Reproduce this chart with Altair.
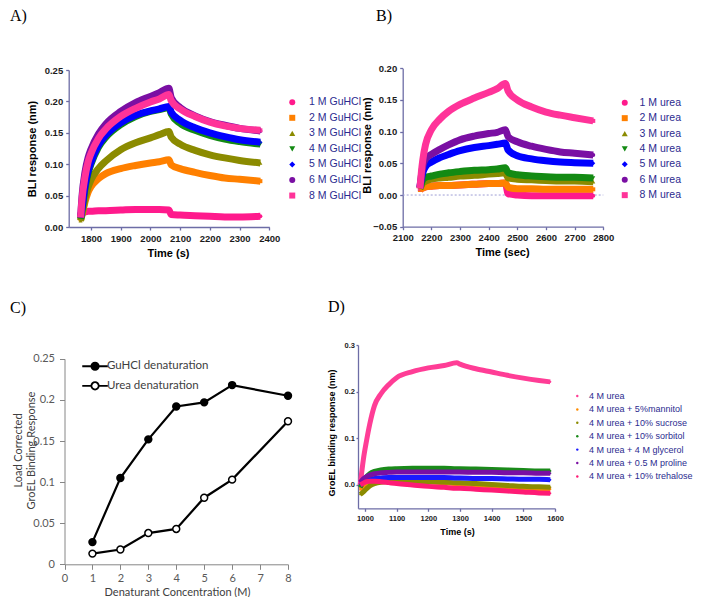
import altair as alt
import pandas as pd

W, H = 688, 589
SANS = "Liberation Sans"
CAL = "Lato"
SLATE = "#6d6da6"
NAVY = "#2b2b8f"

# ---------------- Panel A : GuHCl sensorgrams ----------------
A_names = ["1 M GuHCl", "2 M GuHCl", "3 M GuHCl", "4 M GuHCl", "5 M GuHCl", "6 M GuHCl", "8 M GuHCl"]
A_colors = ["#ff1a8c", "#ff8000", "#8b8b00", "#138a13", "#0000ff", "#7a0fa3", "#ff3399"]
A_shapes = ["circle", "square", "triangle-up", "triangle-down", "diamond", "circle", "square"]
A_time = [1765, 1770, 1780, 1790, 1800, 1825, 1850, 1900, 1950, 2000, 2030, 2062, 2070, 2100, 2150, 2200, 2250, 2300, 2370]
A_1M = [0.018, 0.025, 0.024, 0.025, 0.025, 0.026, 0.026, 0.027, 0.028, 0.028, 0.028, 0.027, 0.020, 0.019, 0.018, 0.017, 0.016, 0.016, 0.017]
A_2M = [0.012, 0.020, 0.040, 0.055, 0.064, 0.077, 0.085, 0.093, 0.098, 0.102, 0.104, 0.107, 0.099, 0.093, 0.087, 0.082, 0.078, 0.076, 0.073]
A_3M = [0.010, 0.020, 0.045, 0.063, 0.075, 0.093, 0.105, 0.123, 0.134, 0.142, 0.147, 0.152, 0.143, 0.132, 0.122, 0.115, 0.110, 0.106, 0.102]
A_4M = [0.013, 0.028, 0.062, 0.085, 0.100, 0.127, 0.143, 0.163, 0.176, 0.184, 0.187, 0.190, 0.180, 0.165, 0.154, 0.146, 0.140, 0.136, 0.132]
A_5M = [0.015, 0.030, 0.065, 0.088, 0.103, 0.130, 0.146, 0.166, 0.178, 0.185, 0.188, 0.192, 0.183, 0.170, 0.158, 0.150, 0.144, 0.139, 0.135]
A_6M = [0.015, 0.050, 0.088, 0.110, 0.124, 0.148, 0.164, 0.184, 0.198, 0.208, 0.214, 0.221, 0.206, 0.190, 0.177, 0.168, 0.162, 0.157, 0.153]
A_8M = [0.015, 0.045, 0.080, 0.103, 0.117, 0.141, 0.156, 0.176, 0.189, 0.199, 0.204, 0.211, 0.201, 0.188, 0.176, 0.167, 0.161, 0.157, 0.154]
A_xticks = [1800, 1900, 2000, 2100, 2200, 2300, 2400]
A_yticks = [0.0, 0.05, 0.10, 0.15, 0.20, 0.25]

# ---------------- Panel B : urea sensorgrams ----------------
B_names = ["1 M urea", "2 M urea", "3 M urea", "4 M urea", "5 M urea", "6 M urea", "8 M urea"]
B_colors = ["#ff1a8c", "#ff8000", "#8b8b00", "#138a13", "#0000ff", "#7a0fa3", "#ff3399"]
B_shapes = ["circle", "square", "triangle-up", "triangle-down", "diamond", "circle", "square"]
B_time = [2160, 2165, 2170, 2180, 2200, 2230, 2260, 2300, 2350, 2400, 2430, 2458, 2468, 2500, 2550, 2600, 2650, 2700, 2765]
B_1M = [0.008, 0.010, 0.011, 0.013, 0.014, 0.015, 0.015, 0.016, 0.017, 0.018, 0.018, 0.019, 0.002, 0.000, -0.001, -0.001, -0.001, -0.001, -0.001]
B_2M = [0.008, 0.010, 0.011, 0.013, 0.014, 0.015, 0.015, 0.016, 0.017, 0.018, 0.018, 0.019, 0.012, 0.010, 0.010, 0.009, 0.009, 0.009, 0.009]
B_3M = [0.010, 0.015, 0.019, 0.022, 0.025, 0.027, 0.028, 0.030, 0.031, 0.033, 0.034, 0.035, 0.027, 0.025, 0.024, 0.023, 0.022, 0.022, 0.021]
B_4M = [0.010, 0.018, 0.024, 0.028, 0.030, 0.033, 0.035, 0.037, 0.039, 0.040, 0.041, 0.043, 0.035, 0.032, 0.030, 0.029, 0.028, 0.028, 0.027]
B_5M = [0.012, 0.025, 0.035, 0.045, 0.052, 0.059, 0.064, 0.070, 0.075, 0.078, 0.080, 0.082, 0.071, 0.062, 0.057, 0.054, 0.052, 0.051, 0.050]
B_6M = [0.012, 0.030, 0.045, 0.057, 0.064, 0.072, 0.079, 0.087, 0.093, 0.097, 0.099, 0.103, 0.092, 0.084, 0.077, 0.072, 0.068, 0.066, 0.063]
B_8M = [0.010, 0.035, 0.055, 0.080, 0.103, 0.120, 0.132, 0.143, 0.153, 0.162, 0.168, 0.176, 0.164, 0.150, 0.139, 0.131, 0.126, 0.122, 0.117]
B_xticks = [2100, 2200, 2300, 2400, 2500, 2600, 2700, 2800]
B_yticks = [-0.05, 0.0, 0.05, 0.10, 0.15, 0.20]

# ---------------- Panel C : load corrected response ----------------
C_names = ["GuHCl denaturation", "Urea denaturation"]
C_conc = [1, 2, 3, 4, 5, 6, 8]
C_guhcl = [0.027, 0.105, 0.152, 0.192, 0.197, 0.218, 0.205]
C_urea = [0.013, 0.018, 0.038, 0.043, 0.081, 0.103, 0.174]
C_xticks = [0, 1, 2, 3, 4, 5, 6, 7, 8]
C_yticks = [0.0, 0.05, 0.10, 0.15, 0.20, 0.25]

# ---------------- Panel D : osmolytes ----------------
D_names = ["4 M urea", "4 M urea + 5%mannitol", "4 M urea + 10% sucrose", "4 M urea + 10% sorbitol",
           "4 M urea + 4 M glycerol", "4 M urea + 0.5 M proline", "4 M urea + 10% trehalose"]
D_colors = ["#ff3d96", "#ff8c00", "#8b8b00", "#1a8a1a", "#1a1aff", "#7a0fa3", "#ff1a75"]
D_time = [985, 995, 1005, 1015, 1030, 1050, 1075, 1100, 1150, 1200, 1250, 1290, 1300, 1350, 1400, 1450, 1500, 1550, 1585]
D_urea = [0.000, 0.055, 0.095, 0.130, 0.170, 0.195, 0.215, 0.230, 0.243, 0.251, 0.256, 0.262, 0.259, 0.249, 0.242, 0.235, 0.229, 0.224, 0.221]
D_mannitol = [-0.010, -0.005, 0.000, 0.004, 0.007, 0.009, 0.010, 0.010, 0.009, 0.007, 0.005, 0.003, 0.003, 0.000, -0.002, -0.004, -0.006, -0.008, -0.009]
D_sucrose = [-0.020, -0.015, -0.008, -0.002, 0.003, 0.006, 0.007, 0.008, 0.008, 0.007, 0.006, 0.005, 0.005, 0.003, 0.001, -0.001, -0.003, -0.004, -0.005]
D_sorbitol = [-0.005, 0.008, 0.018, 0.024, 0.029, 0.032, 0.034, 0.035, 0.036, 0.036, 0.036, 0.035, 0.035, 0.034, 0.033, 0.032, 0.031, 0.030, 0.030]
D_glycerol = [0.000, 0.006, 0.010, 0.012, 0.014, 0.015, 0.016, 0.016, 0.016, 0.016, 0.016, 0.015, 0.015, 0.014, 0.014, 0.013, 0.012, 0.012, 0.011]
D_proline = [0.005, 0.013, 0.018, 0.021, 0.024, 0.026, 0.027, 0.028, 0.028, 0.028, 0.028, 0.028, 0.028, 0.027, 0.027, 0.026, 0.026, 0.025, 0.025]
D_trehalose = [0.000, 0.004, 0.007, 0.008, 0.008, 0.007, 0.005, 0.003, 0.000, -0.003, -0.005, -0.007, -0.007, -0.009, -0.011, -0.013, -0.015, -0.017, -0.018]
D_xticks = [1000, 1100, 1200, 1300, 1400, 1500, 1600]
D_yticks = [0.0, 0.1, 0.2, 0.3]

panel_labels = ["A)", "B)", "C)", "D)"]


def long_frame(times, names, series):
    rows = []
    for k, (name, vals) in enumerate(zip(names, series)):
        for t, v in zip(times, vals):
            rows.append({"t": t, "v": v, "s": name, "k": k})
    return pd.DataFrame(rows)


def axis_style(**kw):
    base = dict(grid=False, labelFlush=False, labelOverlap=False, domainColor=SLATE, tickColor=SLATE,
                domainWidth=1.3, tickWidth=1.3, labelFont=SANS, labelFontWeight="bold", labelColor="#1c1c1c",
                titleFont=SANS, titleFontWeight="bold", titleColor="#000000", titleBaseline="middle",
                titleAlign="center")
    base.update(kw)
    return alt.Axis(**base)


def sensor_panel(df, names, colors, shapes, x_enc, y_enc, legend, line_w, pt_size, extra=None):
    color_leg = alt.Color("s:N", scale=alt.Scale(domain=names, range=colors), legend=legend)
    enc = dict(x=x_enc, y=y_enc, color=color_leg)
    if shapes is not None:
        enc["shape"] = alt.Shape("s:N", scale=alt.Scale(domain=names, range=shapes), legend=legend)
    pts = alt.Chart(df).mark_point(filled=True, size=pt_size, opacity=1, strokeWidth=0).encode(**enc)
    lines = alt.Chart(df).mark_line(strokeWidth=line_w, interpolate="monotone").encode(
        x=x_enc, y=y_enc,
        color=alt.Color("s:N", scale=alt.Scale(domain=names, range=colors), legend=None),
        detail="s:N",
    )
    layers = [pts]
    if extra is not None:
        layers.append(extra)
    layers.append(lines)
    return alt.layer(*layers)


# ---------- A ----------
A_df = long_frame(A_time, A_names, [A_1M, A_2M, A_3M, A_4M, A_5M, A_6M, A_8M])
A_x = alt.X("t:Q", scale=alt.Scale(domain=[1725, 2400], range=[60.7, 261.3], nice=False, zero=False),
            axis=axis_style(orient="bottom", offset=219 - H, values=A_xticks, format="d", tickSize=3,
                            labelPadding=3, labelFontSize=9.5, title="Time (s)", titleFontSize=11,
                            titleX=160, titleY=26))
A_y = alt.Y("v:Q", scale=alt.Scale(domain=[0, 0.25], range=[219, 62], nice=False, zero=False),
            axis=axis_style(orient="left", offset=-60.7, values=A_yticks, format=".2f", tickSize=3,
                            labelPadding=3, labelFontSize=9.5, title="BLI response (nm)", titleFontSize=11,
                            titleX=-35.7, titleY=140.5))
A_leg = alt.Legend(orient="none", legendX=279, legendY=89, title=None, labelFont=SANS, labelFontSize=10.5,
                   labelColor=NAVY, symbolSize=36, symbolStrokeWidth=0, labelOffset=11.6, rowPadding=4.55,
                   padding=0)
A_panel = sensor_panel(A_df, A_names, A_colors, A_shapes, A_x, A_y, A_leg, 7, 16)

# ---------- B ----------
B_df = long_frame(B_time, B_names, [B_1M, B_2M, B_3M, B_4M, B_5M, B_6M, B_8M])
B_x = alt.X("t:Q", scale=alt.Scale(domain=[2100, 2800], range=[394.7, 595.3], nice=False, zero=False),
            axis=axis_style(orient="bottom", offset=218.7 - H, values=B_xticks, format="d", tickSize=3,
                            labelPadding=3, labelFontSize=9.5, title="Time (sec)", titleFontSize=11,
                            titleX=494, titleY=25.3))
B_y = alt.Y("v:Q", scale=alt.Scale(domain=[-0.05, 0.20], range=[218.7, 60.3], nice=False, zero=False),
            axis=axis_style(orient="left", offset=-394.7, values=B_yticks, format=".2f", tickSize=3,
                            labelPadding=3, labelFontSize=9.5, title="BLI response (nm)", titleFontSize=11,
                            titleX=-35.4, titleY=137))
B_leg = alt.Legend(orient="none", legendX=611.5, legendY=89.5, title=None, labelFont=SANS, labelFontSize=10.5,
                   labelColor=NAVY, symbolSize=36, symbolStrokeWidth=0, labelOffset=9.6, rowPadding=4.4,
                   padding=0)
B_zero = alt.Chart(pd.DataFrame({"t": [2100], "t2": [2800], "v": [0.0]})).mark_rule(
    strokeDash=[2, 2], color="#9d9dd4", strokeWidth=1).encode(x=B_x, x2="t2:Q", y=B_y)
B_panel = sensor_panel(B_df, B_names, B_colors, B_shapes, B_x, B_y, B_leg, 7, 16, extra=B_zero)

# ---------- C ----------
C_df = pd.DataFrame(
    [{"c": c, "v": v, "s": C_names[0]} for c, v in zip(C_conc, C_guhcl)]
    + [{"c": c, "v": v, "s": C_names[1]} for c, v in zip(C_conc, C_urea)]
)
C_axis_common = dict(grid=False, labelFlush=False, labelOverlap=False, domainColor="#868686",
                     tickColor="#868686", domainWidth=1, tickWidth=1, tickSize=5, labelFont=CAL,
                     labelFontSize=11, labelColor="#595959", titleFont=CAL, titleFontSize=11,
                     titleFontWeight="normal", titleColor="#404040", titleBaseline="middle",
                     titleAlign="center")
C_x = alt.X("c:Q", scale=alt.Scale(domain=[0, 8], range=[56.5, 280], nice=False, zero=False),
            axis=alt.Axis(orient="bottom", offset=556.3 - H, values=C_xticks, format="d", labelPadding=3,
                          title="Denaturant Concentration (M)", titleX=169, titleY=27.7, **C_axis_common))
C_y = alt.Y("v:Q", scale=alt.Scale(domain=[0, 0.25], range=[556.3, 350.8], nice=False, zero=False),
            axis=alt.Axis(orient="left", offset=-56.5, values=C_yticks, format=".2~f", labelPadding=5,
                          title=["Load Corrected", "GroEL Binding Response"], titleX=-46, titleY=442,
                          titleLineHeight=13, **C_axis_common))
C_SYMBOL = "M-3.2,0L-0.92,0M0.92,0L3.2,0M-0.92,0A0.92,0.92 0 1,0 0.92,0A0.92,0.92 0 1,0 -0.92,0Z"
C_leg = alt.Legend(orient="none", legendX=81.3, legendY=352.5, title=None, symbolType=C_SYMBOL, symbolSize=64,
                   symbolStrokeColor="#000000", symbolStrokeWidth=1.8, labelFont=CAL, labelFontSize=11.5,
                   labelColor="#404040", labelOffset=6.1, rowPadding=3.6, padding=0)
C_lines = alt.Chart(C_df).mark_line(color="#000000", strokeWidth=2.2).encode(x=C_x, y=C_y, detail="s:N")
C_pts = alt.Chart(C_df).mark_point(filled=True, size=48, stroke="#000000", strokeWidth=1.5, opacity=1).encode(
    x=C_x, y=C_y,
    fill=alt.Fill("s:N", scale=alt.Scale(domain=C_names, range=["#000000", "#ffffff"]), legend=C_leg))
C_panel = alt.layer(C_lines, C_pts)

# ---------- D ----------
D_df = long_frame(D_time, D_names, [D_urea, D_mannitol, D_sucrose, D_sorbitol, D_glycerol, D_proline, D_trehalose])
D_x = alt.X("t:Q", scale=alt.Scale(domain=[978, 1600], range=[350, 547], nice=False, zero=False),
            axis=axis_style(orient="bottom", offset=500.3 - H, values=D_xticks, format="d", tickSize=3,
                            labelPadding=3, labelFontSize=7.5, title="Time (s)", titleFontSize=9,
                            titleX=449, titleY=22.7))
D_y = alt.Y("v:Q", scale=alt.Scale(domain=[-0.05, 0.30], range=[500.3, 337], nice=False, zero=False),
            axis=axis_style(orient="left", offset=-350, values=D_yticks, format=".1f", tickSize=2,
                            labelPadding=1.5, labelFontSize=7.5, title="GroEL binding response (nm)",
                            titleFontSize=9, titleX=-26.3, titleY=424.5))
D_leg = alt.Legend(orient="none", legendX=564.8, legendY=383.5, title=None, labelFont=SANS, labelFontSize=9,
                   labelColor=NAVY, symbolSize=6, symbolStrokeWidth=0, labelOffset=7.3, rowPadding=3.4,
                   padding=0)
D_panel = sensor_panel(D_df, D_names, D_colors, None, D_x, D_y, D_leg, 5, 5)

# ---------- panel letters ----------
label_pos = [(2, 13), (368, 13), (2, 304.6), (320, 304.3)]
letters = [
    alt.Chart(pd.DataFrame({"lab": [lab]})).mark_text(
        font="Liberation Serif", fontSize=16, align="left", baseline="alphabetic", color="#000000"
    ).encode(text="lab:N", x=alt.value(px), y=alt.value(py))
    for lab, (px, py) in zip(panel_labels, label_pos)
]

chart = alt.layer(A_panel, B_panel, C_panel, D_panel, *letters).resolve_scale(
    x="independent", y="independent", color="independent", shape="independent", fill="independent"
).resolve_axis(x="independent", y="independent").resolve_legend(
    color="independent", shape="independent", fill="independent"
).properties(
    width=W, height=H, autosize=alt.AutoSizeParams(type="none"), padding=0, background="white"
).configure_view(stroke=None)

chart.save("out.html", embed_options={"renderer": "svg", "actions": False})
